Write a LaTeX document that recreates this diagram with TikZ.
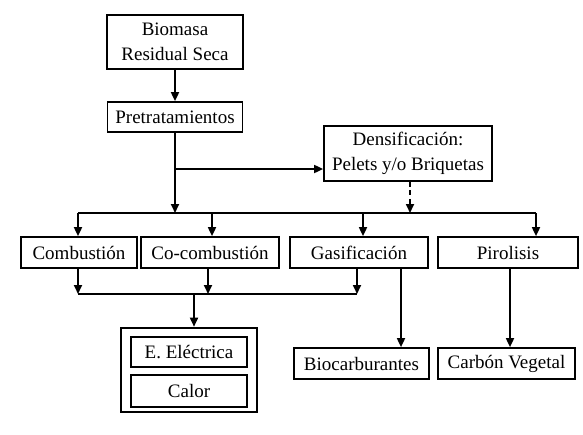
\documentclass[tikz,border=0pt]{standalone}
\usepackage{fontspec}
\setmainfont{Liberation Serif}
\usetikzlibrary{arrows.meta}
\begin{document}
\begin{tikzpicture}[x=1pt,y=-1pt,
  box/.style={draw,line width=1.7pt,rectangle,inner sep=1pt,align=center,
    font=\fontsize{19}{24.5}\selectfont},
  arr/.style={line width=1.7pt,-{Triangle[length=9pt,width=8pt]}},
  ln/.style={line width=1.7pt}]
\useasboundingbox (0,0) rectangle (583,434);
\node[box,minimum width=136pt,minimum height=54pt] (bio) at (175,42) {Biomasa\\Residual Seca};
\node[box,minimum width=135pt,minimum height=30pt] (pre) at (175,117) {Pretratamientos};
\node[box,minimum width=168pt,minimum height=55pt] (den) at (408,153.5) {Densificación:\\Pelets y/o Briquetas};
\node[box,minimum width=116pt,minimum height=31pt] (com) at (79,252.5) {Combustión};
\node[box,minimum width=138pt,minimum height=31pt] (coc) at (210,252.5) {Co-combustión};
\node[box,minimum width=138pt,minimum height=31pt] (gas) at (359,252.5) {Gasificación};
\node[box,minimum width=140pt,minimum height=31pt] (pir) at (508,252.5) {Pirolisis};
\node[draw,line width=2.6pt,minimum width=136pt,minimum height=84pt,inner sep=0pt] (out) at (189,370) {};
\node[box,minimum width=116pt,minimum height=30pt] (ele) at (189,352) {E. Eléctrica};
\node[box,minimum width=116pt,minimum height=32pt] (cal) at (189,391) {Calor};
\node[box,minimum width=135pt,minimum height=31pt] (bcb) at (361.5,363.5) {Biocarburantes};
\node[box,minimum width=137pt,minimum height=31pt] (car) at (506.5,363.5) {Carbón Vegetal};
% coordinates
\coordinate (busL) at (78,213);
\coordinate (busR) at (536,213);
\coordinate (busP) at (175,213);
\coordinate (busD) at (410,213);
\coordinate (brP) at (175,169);
\coordinate (xa) at (78,0);
\coordinate (xb) at (212,0);
\coordinate (xc) at (363,0);
\coordinate (xd) at (536,0);
\coordinate (xe) at (208,0);
\coordinate (xf) at (357,0);
\coordinate (xg) at (401,0);
\coordinate (xh) at (510,0);
\coordinate (lbL) at (78,294);
\coordinate (lbR) at (357,294);
\coordinate (lbM) at (194,294);
% connectors
\draw[arr] (bio) -- (pre);
\draw[arr] (pre) -- (busP);
\draw[arr] (brP) -- (brP -| den.west);
\draw[arr,dash pattern=on 5pt off 3.5pt] (den.south -| busD) -- (busD);
\draw[ln] (busL) -- (busR);
\draw[arr] (busL) -- (com.north -| xa);
\draw[arr] (busL -| xb) -- (coc.north -| xb);
\draw[arr] (busL -| xc) -- (gas.north -| xc);
\draw[arr] (busR) -- (pir.north -| xd);
\draw[arr] (com.south -| xa) -- (lbL);
\draw[arr] (coc.south -| xe) -- (lbL -| xe);
\draw[arr] (gas.south -| xf) -- (lbR);
\draw[ln] (lbL) -- (lbR);
\draw[arr] (lbM) -- (out.north -| lbM);
\draw[arr] (gas.south -| xg) -- (bcb.north -| xg);
\draw[arr] (pir.south -| xh) -- (car.north -| xh);
\end{tikzpicture}
\end{document}
